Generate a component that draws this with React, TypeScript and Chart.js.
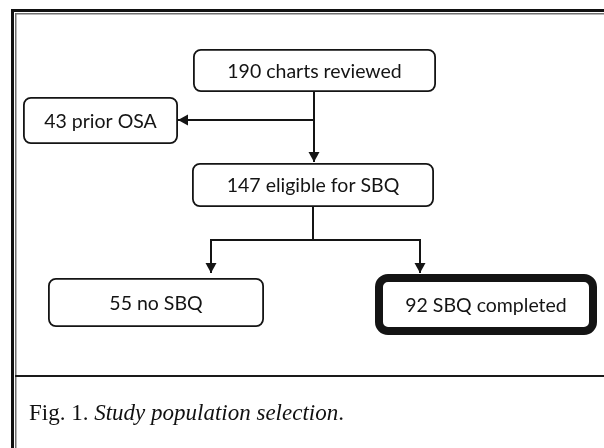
import { useEffect, useRef } from "react";
import { Chart, registerables } from "chart.js";

Chart.register(...registerables);

// Flow-chart nodes (layout units = page pixels on a 604 x 448 linear scale pair)
const nodeLabels = ["190 charts reviewed", "43 prior OSA", "147 eligible for SBQ", "55 no SBQ", "92 SBQ completed"];
const nodeLeft = [193, 23, 192, 48, 375];
const nodeRight = [436, 178, 434, 264, 597];
const nodeTop = [49, 97, 163, 278, 274];
const nodeBottom = [92, 144, 207, 327, 335];
const nodeHighlighted = [false, false, false, false, true];

// Connectors: polylines; an arrow head is drawn at the last point when flagged
const edgeX = [[314, 314], [314, 178], [313, 313], [313, 211, 211], [313, 420, 420]];
const edgeY = [[92, 162], [120, 120], [207, 240], [240, 240, 273], [240, 240, 273]];
const edgeArrow = [true, true, false, true, true];

const captionPrefix = "Fig. 1. ";
const captionItalic = "Study population selection";
const captionSuffix = ".";

const INK = "#141414";
const BOX_FONT = "19.5px Lato";
const CAPTION_FONT = "23px 'Liberation Serif'";

function roundRect(ctx: CanvasRenderingContext2D, x: number, y: number, w: number, h: number, r: number) {
  ctx.beginPath();
  ctx.moveTo(x + r, y);
  ctx.lineTo(x + w - r, y);
  ctx.arcTo(x + w, y, x + w, y + r, r);
  ctx.lineTo(x + w, y + h - r);
  ctx.arcTo(x + w, y + h, x + w - r, y + h, r);
  ctx.lineTo(x + r, y + h);
  ctx.arcTo(x, y + h, x, y + h - r, r);
  ctx.lineTo(x, y + r);
  ctx.arcTo(x, y, x + r, y, r);
  ctx.closePath();
}

const framePlugin = {
  id: "frame",
  beforeDraw(chart: any) {
    const ctx: CanvasRenderingContext2D = chart.ctx;
    const W = chart.width;
    const H = chart.height;
    ctx.save();
    ctx.fillStyle = "#ffffff";
    ctx.fillRect(0, 0, W, H);
    // outer double frame (top + left), as in the scanned figure
    ctx.fillStyle = "#111111";
    ctx.fillRect(11, 9, W - 11, 3);
    ctx.fillRect(11, 9, 3, H - 9);
    ctx.fillStyle = "#707070";
    ctx.fillRect(15, 13, W - 15, 1.5);
    ctx.fillRect(15, 13, 1.5, H - 13);
    // separator above caption
    ctx.fillStyle = "#1a1a1a";
    ctx.fillRect(15, 375, W - 15, 2);
    // caption
    ctx.fillStyle = "#111111";
    ctx.textBaseline = "alphabetic";
    ctx.textAlign = "left";
    let x = 29;
    const y = 420;
    ctx.font = CAPTION_FONT;
    ctx.fillText(captionPrefix, x, y);
    x += ctx.measureText(captionPrefix).width;
    ctx.font = "italic " + CAPTION_FONT;
    ctx.fillText(captionItalic, x, y);
    x += ctx.measureText(captionItalic).width;
    ctx.font = CAPTION_FONT;
    ctx.fillText(captionSuffix, x, y);
    ctx.restore();
  },
};

const nodesPlugin = {
  id: "nodes",
  afterDatasetsDraw(chart: any) {
    const ctx: CanvasRenderingContext2D = chart.ctx;
    const xs = chart.scales.x;
    const ys = chart.scales.y;
    ctx.save();
    // arrow heads
    ctx.fillStyle = INK;
    edgeX.forEach((px, i) => {
      if (!edgeArrow[i]) return;
      const n = px.length;
      const x1 = xs.getPixelForValue(px[n - 1]);
      const y1 = ys.getPixelForValue(edgeY[i][n - 1]);
      const x0 = xs.getPixelForValue(px[n - 2]);
      const y0 = ys.getPixelForValue(edgeY[i][n - 2]);
      const len = Math.hypot(x1 - x0, y1 - y0) || 1;
      const ux = (x1 - x0) / len;
      const uy = (y1 - y0) / len;
      const L = 10;
      const hw = 5.5;
      ctx.beginPath();
      ctx.moveTo(x1, y1);
      ctx.lineTo(x1 - ux * L - uy * hw, y1 - uy * L + ux * hw);
      ctx.lineTo(x1 - ux * L + uy * hw, y1 - uy * L - ux * hw);
      ctx.closePath();
      ctx.fill();
    });
    // boxes
    nodeLabels.forEach((label, i) => {
      const l = xs.getPixelForValue(nodeLeft[i]);
      const r = xs.getPixelForValue(nodeRight[i]);
      const t = ys.getPixelForValue(nodeTop[i]);
      const b = ys.getPixelForValue(nodeBottom[i]);
      ctx.strokeStyle = INK;
      if (nodeHighlighted[i]) {
        const lw = 8;
        ctx.lineWidth = lw;
        roundRect(ctx, l + lw / 2, t + lw / 2, r - l - lw, b - t - lw, 9);
      } else {
        ctx.lineWidth = 1.8;
        roundRect(ctx, l + 0.9, t + 0.9, r - l - 1.8, b - t - 1.8, 7);
      }
      ctx.fillStyle = "#ffffff";
      ctx.fill();
      ctx.stroke();
      ctx.fillStyle = INK;
      ctx.font = BOX_FONT;
      ctx.textAlign = "center";
      ctx.textBaseline = "middle";
      ctx.fillText(label, (l + r) / 2, (t + b) / 2 + 1);
    });
    ctx.restore();
  },
};

export default function App() {
  const canvasRef = useRef<HTMLCanvasElement | null>(null);

  useEffect(() => {
    document.body.style.margin = "0";
    const canvas = canvasRef.current;
    if (!canvas) return;
    const datasets = edgeX.map((px, i) => ({
      label: "edge" + i,
      data: px.map((x, j) => ({ x, y: edgeY[i][j] })),
      showLine: true,
      borderColor: INK,
      borderWidth: 2,
      pointRadius: 0,
      pointHoverRadius: 0,
      tension: 0,
      fill: false,
    }));
    const chart = new Chart(canvas, {
      type: "scatter",
      data: { datasets },
      options: {
        animation: false,
        responsive: false,
        maintainAspectRatio: false,
        devicePixelRatio: 1,
        layout: { padding: 0 },
        events: [],
        plugins: { legend: { display: false }, tooltip: { enabled: false }, title: { display: false } },
        scales: {
          x: { type: "linear", min: 0, max: 604, display: false },
          y: { type: "linear", min: 0, max: 448, reverse: true, display: false },
        },
      },
      plugins: [framePlugin, nodesPlugin],
    });
    return () => chart.destroy();
  }, []);

  return (
    <div style={{ width: 604, height: 448, position: "relative" }}>
      <canvas ref={canvasRef} width={604} height={448} style={{ display: "block" }} />
    </div>
  );
}
